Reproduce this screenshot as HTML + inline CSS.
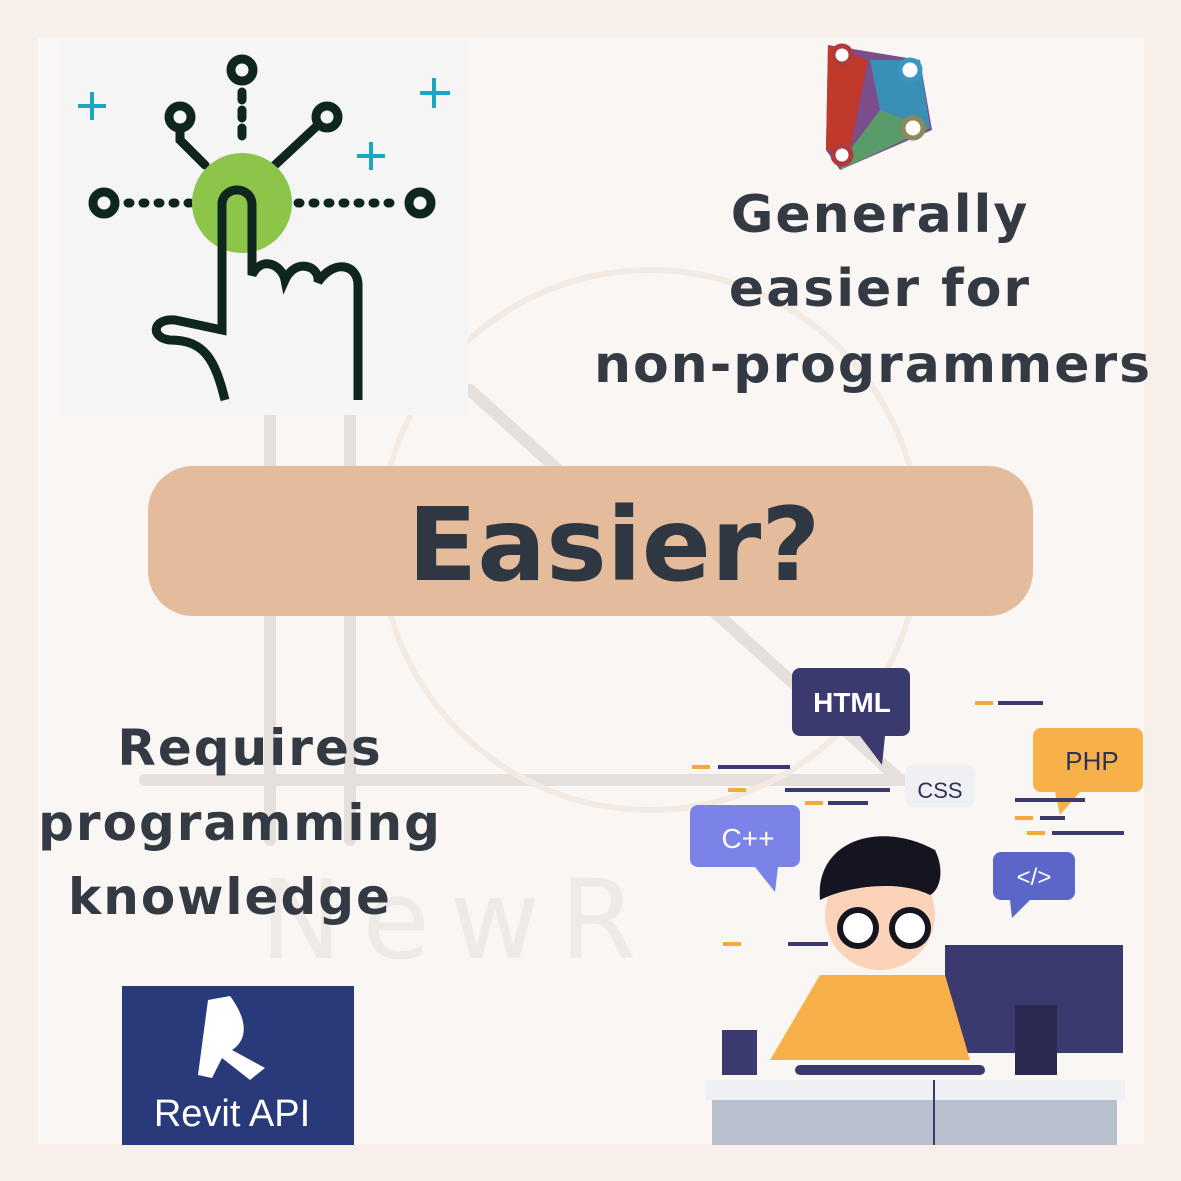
<!DOCTYPE html>
<html><head><meta charset="utf-8"><style>
html,body{margin:0;padding:0;background:#f7efe9;}
svg{display:block}
text{font-family:"DejaVu Sans","Liberation Sans",sans-serif;}
</style></head><body>
<svg width="1181" height="1181" viewBox="0 0 1181 1181" xmlns="http://www.w3.org/2000/svg">
<rect width="1181" height="1181" fill="#f7efe9"/>
<rect x="38" y="38" width="1106" height="1106" fill="#faf6f3"/>
<!-- watermark -->
<g stroke="#e6e0dc" stroke-width="12" fill="none" stroke-linecap="round">
<line x1="270" y1="415" x2="270" y2="840"/><line x1="350" y1="415" x2="350" y2="840"/>
<line x1="145" y1="780" x2="930" y2="780"/>
<line x1="470" y1="390" x2="900" y2="780"/>
<circle cx="650" cy="540" r="270" stroke="#f3ebe3" stroke-width="6"/>
</g>
<text x="260" y="958" font-size="110" fill="#eeeae6" letter-spacing="20">NewR</text>
<!-- top-left icon -->
<rect x="60" y="42" width="408" height="373" fill="#f5f5f5"/>
<g stroke="#0f261e" stroke-width="9" fill="none" stroke-linecap="round">
<circle cx="242" cy="70" r="11"/><line x1="242" y1="92" x2="242" y2="138" stroke-dasharray="8 10"/>
<circle cx="180" cy="117" r="11"/><path d="M180 128 L180 140 L205 165"/>
<circle cx="327" cy="117" r="11"/><path d="M318 125 L275 165"/>
<circle cx="104" cy="203" r="11"/><circle cx="420" cy="203" r="11"/>
<line x1="128" y1="203" x2="190" y2="203" stroke-dasharray="2 13"/>
<line x1="298" y1="203" x2="400" y2="203" stroke-dasharray="2 13"/>
</g>
<circle cx="242" cy="203" r="50" fill="#8cc54a"/>
<path d="M225 400 C215 360 205 340 170 340 C150 338 152 318 175 320 L222 330 L222 205 C222 185 252 185 252 205 L252 275 C262 255 282 265 285 280 C295 258 320 265 318 282 C335 258 358 265 358 285 L358 400" stroke="#0f261e" stroke-width="9" fill="none"/>
<g stroke="#1aa7bf" stroke-width="4"><path d="M92 92v28M78 106h28M434 78v30M420 93h30M371 142v28M357 156h28"/></g>
<!-- dynamo logo -->
<polygon points="828,45 920,60 932,130 840,170 826,150" fill="#7b4d8a"/>
<polygon points="828,45 868,60 850,150 826,150" fill="#c0392b"/>
<polygon points="870,60 920,60 930,128 880,110" fill="#3a8fb7"/>
<polygon points="850,150 880,110 930,128 840,170" fill="#5a9b6a"/>
<g fill="#fff" stroke="#b13a3a" stroke-width="5"><circle cx="842" cy="55" r="9"/><circle cx="842" cy="155" r="9"/></g>
<circle cx="910" cy="70" r="10" fill="#fff" stroke="#3a97c3" stroke-width="5"/>
<circle cx="913" cy="128" r="10" fill="#fff" stroke="#8b8a5a" stroke-width="5"/>
<g fill="#333a44" font-weight="bold" text-anchor="middle" letter-spacing="2">
<text x="880" y="232" font-size="52">Generally</text>
<text x="880" y="306" font-size="52">easier for</text>
<text x="873" y="382" font-size="52">non-programmers</text>
<text x="250" y="765" font-size="50">Requires</text>
<text x="240" y="840" font-size="50">programming</text>
<text x="230" y="914" font-size="50">knowledge</text>
</g>
<!-- pill -->
<rect x="148" y="466" width="885" height="150" rx="45" fill="#e4bc9c"/>
<text x="614" y="580" font-size="102" font-weight="bold" text-anchor="middle" fill="#2f3842">Easier?</text>
<!-- Revit -->
<rect x="122" y="986" width="232" height="159" fill="#283a7a"/>
<path d="M198 1075 L208 1000 L230 996 C248 1020 248 1040 232 1050 L265 1068 L250 1080 L222 1058 L212 1078 Z" fill="#fff"/>
<text x="232" y="1126" font-size="38" fill="#fff" text-anchor="middle" style="font-family:'Liberation Sans',sans-serif">Revit API</text>
<!-- programmer illustration -->
<g>
<rect x="792" y="668" width="118" height="68" rx="8" fill="#3b3a6e"/><polygon points="860,736 885,736 882,765" fill="#3b3a6e"/>
<text x="852" y="712" font-size="28" fill="#fff" text-anchor="middle" font-weight="bold" style="font-family:'Liberation Sans',sans-serif">HTML</text>
<rect x="1033" y="728" width="110" height="64" rx="8" fill="#f8b14a"/><polygon points="1055,792 1080,792 1060,815" fill="#f8b14a"/>
<text x="1092" y="770" font-size="26" fill="#2f3055" text-anchor="middle" style="font-family:'Liberation Sans',sans-serif">PHP</text>
<rect x="905" y="765" width="70" height="42" rx="8" fill="#eef0f4"/>
<text x="940" y="798" font-size="22" fill="#2f3055" text-anchor="middle" style="font-family:'Liberation Sans',sans-serif">CSS</text>
<rect x="690" y="805" width="110" height="62" rx="8" fill="#7b83e8"/><polygon points="755,867 778,867 775,892" fill="#7b83e8"/>
<text x="748" y="848" font-size="28" fill="#fff" text-anchor="middle" style="font-family:'Liberation Sans',sans-serif">C++</text>
<rect x="993" y="852" width="82" height="48" rx="8" fill="#5b66c8"/><polygon points="1010,900 1030,900 1012,918" fill="#5b66c8"/>
<text x="1034" y="885" font-size="24" fill="#fff" text-anchor="middle" style="font-family:'Liberation Sans',sans-serif">&lt;/&gt;</text>
<g stroke-width="4"><path d="M975 703h18M692 767h18M728 790h18M805 803h18M1015 818h18M1027 833h18M723 944h18" stroke="#f7a83a"/>
<path d="M998 703h45M718 767h72M785 790h105M828 803h40M1040 818h25M1052 833h72M788 944h40M1015 800h70" stroke="#3b3a6e"/></g>
<rect x="945" y="945" width="178" height="108" fill="#3b3a6e"/>
<rect x="1015" y="1005" width="42" height="70" fill="#2a2950"/>
<path d="M820 975 L945 975 L970 1060 L770 1060 Z" fill="#f8b14a"/>
<circle cx="880" cy="915" r="55" fill="#fbd3b8"/>
<path d="M820 900 C815 840 880 820 935 850 C945 870 940 890 930 895 C900 880 850 885 820 900Z" fill="#151522"/>
<circle cx="858" cy="928" r="18" fill="#fff" stroke="#151522" stroke-width="6"/><circle cx="910" cy="928" r="18" fill="#fff" stroke="#151522" stroke-width="6"/>
<rect x="795" y="1065" width="190" height="10" rx="5" fill="#3b3a6e"/>
<path d="M722 1030h35v45h-35z" fill="#3b3a6e"/>
<rect x="705" y="1080" width="420" height="20" fill="#eef0f4"/>
<rect x="712" y="1100" width="405" height="45" fill="#b8c0cf"/>
<line x1="934" y1="1080" x2="934" y2="1145" stroke="#3b3a6e" stroke-width="2"/>
</g>
</svg>
</body></html>
